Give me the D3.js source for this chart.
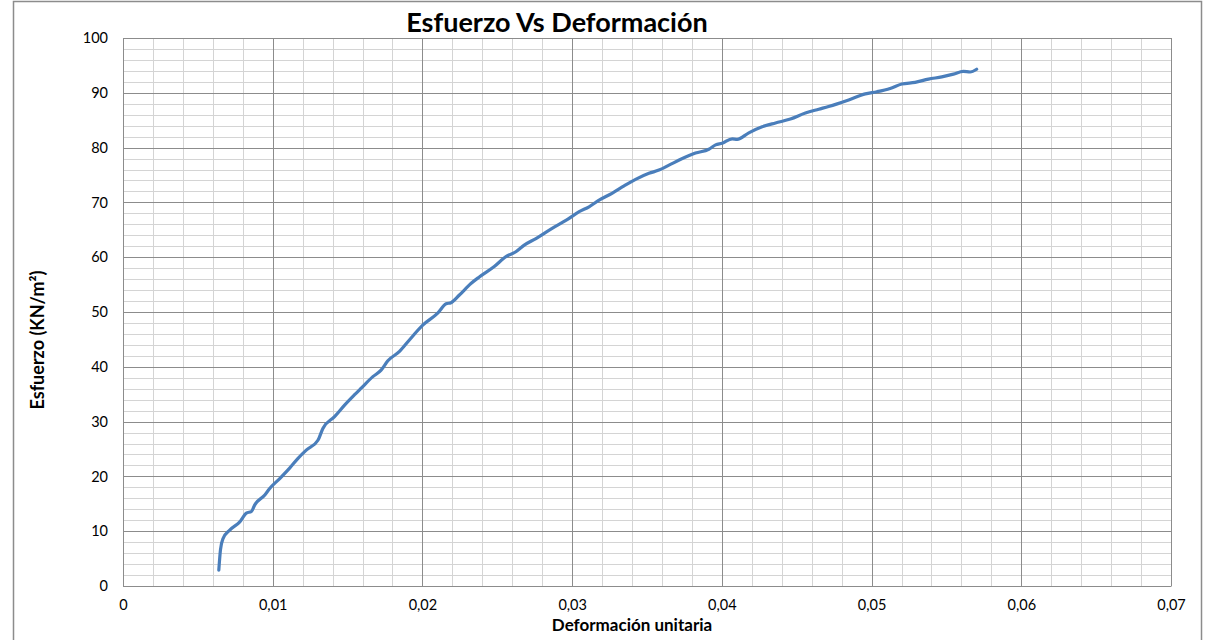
<!DOCTYPE html>
<html>
<head>
<meta charset="utf-8">
<script src="https://cdn.jsdelivr.net/npm/d3@7"></script>
<style>
  html, body { margin: 0; padding: 0; background: #fff; }
  svg { display: block; }
  text { font-family: Lato, "Open Sans", sans-serif; }
</style>
</head>
<body>
<svg id="chart" width="1209" height="640"></svg>
<script>
// ---- Data ----
const title = "Esfuerzo Vs Deformación";
const xLabel = "Deformación unitaria";
const yLabel = "Esfuerzo (KN/m²)";

const xTicks = [0, 0.01, 0.02, 0.03, 0.04, 0.05, 0.06, 0.07];
const yTicks = [0, 10, 20, 30, 40, 50, 60, 70, 80, 90, 100];

const strain = [
  0.0064, 0.00651, 0.00669, 0.00713, 0.0078, 0.00824, 0.00858, 0.0088, 0.00947, 0.0098,
  0.01047, 0.01113, 0.01169, 0.01224, 0.01302, 0.01336, 0.01413, 0.0148, 0.01547, 0.01591,
  0.01669, 0.01724, 0.01769, 0.01847, 0.01913, 0.02002, 0.02102, 0.02158, 0.02191, 0.02247,
  0.02324, 0.0238, 0.0248, 0.02558, 0.02624, 0.0268, 0.02758, 0.02869, 0.02958, 0.03047,
  0.03113, 0.0318, 0.03269, 0.03347, 0.03424, 0.03513, 0.0358, 0.03647, 0.03736, 0.03824,
  0.03913, 0.03958, 0.04002, 0.04069, 0.04102, 0.0418, 0.04269, 0.04358, 0.04458, 0.04558,
  0.04647, 0.04713, 0.04847, 0.04958, 0.05036, 0.05124, 0.05202, 0.05291, 0.0538, 0.05469,
  0.05547, 0.05613, 0.05658, 0.05702
];
const stress = [
  2.9, 6.6, 8.7, 10.2, 11.7, 13.3, 13.6, 14.8, 16.6, 17.8,
  19.6, 21.5, 23.3, 24.8, 26.6, 28.8, 30.9, 33.0, 34.9, 36.1,
  38.2, 39.4, 41.1, 42.8, 44.9, 47.6, 49.8, 51.5, 51.7, 53.1,
  55.2, 56.4, 58.3, 60.1, 61.0, 62.2, 63.4, 65.3, 66.7, 68.3,
  69.2, 70.4, 71.7, 73.0, 74.2, 75.3, 75.9, 76.8, 78.0, 79.0,
  79.7, 80.5, 80.8, 81.6, 81.5, 82.7, 83.8, 84.5, 85.2, 86.3,
  87.0, 87.5, 88.7, 89.8, 90.2, 90.8, 91.6, 91.9, 92.5, 92.9,
  93.4, 93.9, 93.8, 94.3
];

// ---- Layout ----
const svg = d3.select("#chart");
const plot = { left: 123, right: 1171, top: 38, bottom: 586 };

const x = d3.scaleLinear().domain([0, 0.07]).range([plot.left, plot.right]);
const y = d3.scaleLinear().domain([0, 100]).range([plot.bottom, plot.top]);

// outer chart frame
svg.append("rect")
  .attr("x", 13.5).attr("y", 1.5)
  .attr("width", 1188).attr("height", 660)
  .attr("fill", "#fff").attr("stroke", "#8c8c8c").attr("stroke-width", 1.5);

// minor gridlines
const xMinor = d3.range(0, 0.07 + 1e-9, 0.002).filter((d, i) => i % 5 !== 0);
const yMinor = d3.range(0, 100 + 1e-9, 2).filter((d, i) => i % 5 !== 0);

const g = svg.append("g");
g.selectAll("line.xminor").data(xMinor).join("line")
  .attr("x1", d => Math.round(x(d)) + 0.5).attr("x2", d => Math.round(x(d)) + 0.5)
  .attr("y1", plot.top).attr("y2", plot.bottom)
  .attr("stroke", "#d4d4d4").attr("stroke-width", 1);
g.selectAll("line.yminor").data(yMinor).join("line")
  .attr("y1", d => Math.round(y(d)) + 0.5).attr("y2", d => Math.round(y(d)) + 0.5)
  .attr("x1", plot.left).attr("x2", plot.right)
  .attr("stroke", "#d4d4d4").attr("stroke-width", 1);

// major gridlines
g.selectAll("line.xmajor").data(xTicks).join("line")
  .attr("x1", d => Math.round(x(d)) + 0.5).attr("x2", d => Math.round(x(d)) + 0.5)
  .attr("y1", plot.top).attr("y2", plot.bottom)
  .attr("stroke", "#8c8c8c").attr("stroke-width", 1);
g.selectAll("line.ymajor").data(yTicks).join("line")
  .attr("y1", d => Math.round(y(d)) + 0.5).attr("y2", d => Math.round(y(d)) + 0.5)
  .attr("x1", plot.left).attr("x2", plot.right)
  .attr("stroke", "#8c8c8c").attr("stroke-width", 1);

// axes (labels via d3 axes)
const fmtX = d => d === 0 ? "0" : d.toFixed(2).replace(".", ",");
const xAxis = svg.append("g")
  .attr("transform", `translate(0,${plot.bottom})`)
  .call(d3.axisBottom(x).tickValues(xTicks).tickFormat(fmtX).tickSize(0).tickPadding(14));
xAxis.select(".domain").attr("stroke", "#8c8c8c");
xAxis.selectAll("text").attr("font-size", 14.5).attr("fill", "#000")
  .style("font-family", "Lato, sans-serif");

const yAxis = svg.append("g")
  .attr("transform", `translate(${plot.left},0)`)
  .call(d3.axisLeft(y).tickValues(yTicks).tickFormat(d3.format("d")).tickSize(0).tickPadding(15));
yAxis.select(".domain").attr("stroke", "#8c8c8c");
yAxis.selectAll("text").attr("font-size", 14.5).attr("fill", "#000")
  .style("font-family", "Lato, sans-serif");

// curve
const pts = strain.map((s, i) => [s, stress[i]]);
svg.append("path")
  .datum(pts)
  .attr("fill", "none")
  .attr("stroke", "#4a7ebb")
  .attr("stroke-width", 3.2)
  .attr("stroke-linejoin", "round")
  .attr("stroke-linecap", "round")
  .attr("d", d3.line().x(d => x(d[0])).y(d => y(d[1])).curve(d3.curveMonotoneX));

// title
svg.append("text")
  .attr("x", 557).attr("y", 32)
  .attr("text-anchor", "middle")
  .attr("font-size", 27).attr("font-weight", "bold")
  .text(title);

// axis titles
svg.append("text")
  .attr("x", 632).attr("y", 631)
  .attr("text-anchor", "middle")
  .attr("font-size", 17).attr("font-weight", "bold")
  .text(xLabel);

svg.append("text")
  .attr("transform", "translate(44,340) rotate(-90)")
  .attr("text-anchor", "middle")
  .attr("font-size", 18).attr("font-weight", "bold")
  .text(yLabel);
</script>
</body>
</html>
